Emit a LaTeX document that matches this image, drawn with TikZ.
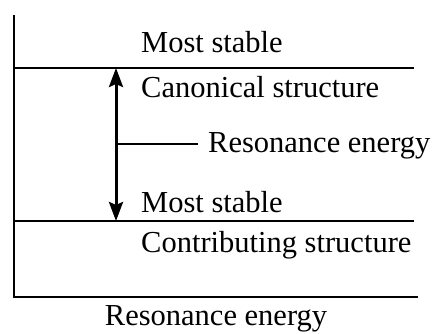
\documentclass[tikz,border=0pt]{standalone}
\usepackage{fontspec}
\setmainfont{Liberation Serif}
\usetikzlibrary{positioning, arrows.meta}
\tikzset{
    level/.style={line width=1.8pt},
    gap/.style={line width=3pt, {Stealth[length=19pt,width=14pt,inset=3pt]}-{Stealth[length=19pt,width=14pt,inset=3pt]}},
    lbl/.style={anchor=base west, inner sep=0pt, font=\fontsize{30.5}{36}\selectfont},
}

\begin{document}
\begin{tikzpicture}[x=1pt, y=1pt]
    \useasboundingbox (0,0) rectangle (432,333);

    % axes
    \coordinate (top) at (14,318);
    \coordinate (origin) at (14,36);
    \coordinate (xend) at (418,36);
    \draw[line width=2.2pt] (top) -- (origin) -- (xend);

    % energy levels
    \coordinate (c0) at (14,265);
    \coordinate (c1) at (414,265);
    \coordinate (m0) at (14,112);
    \coordinate (m1) at (414,112);
    \draw[level] (c0) -- (c1);
    \draw[level] (m0) -- (m1);

    \node[lbl] (stable1) at (141,280) {Most stable};
    \node[lbl] (canon) at (141,236) {Canonical structure};
    \node[lbl] (stable2) at (141,121) {Most stable};
    \node[lbl] (contrib) at (141,81) {Contributing structure};

    % resonance energy gap
    \coordinate (up) at (116,265);
    \coordinate (down) at (116,112);
    \coordinate (mid) at (116,189);
    \draw[gap] (up) -- (down);
    \node[lbl] (re) at (208,181) {Resonance energy};
    \draw[line width=2.8pt] (mid) -- ([xshift=-10pt]re.west |- mid);
    \node[lbl, anchor=base] (caption) at (216,8) {Resonance energy};
\end{tikzpicture}
\end{document}
